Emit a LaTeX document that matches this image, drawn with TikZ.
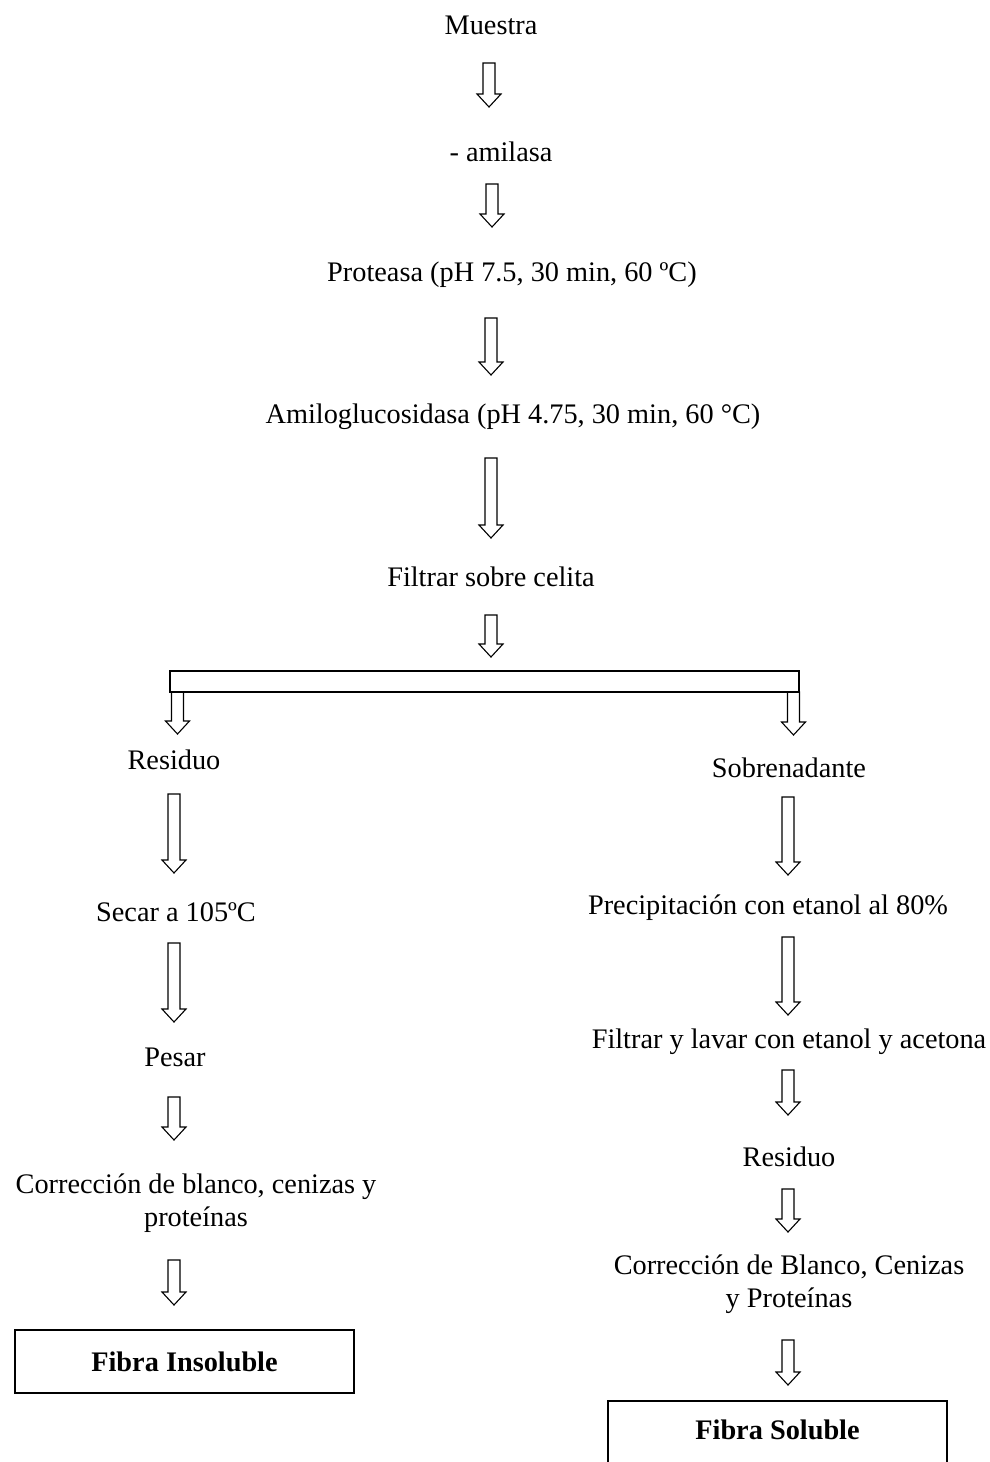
\documentclass[tikz,border=0pt]{standalone}
\usepackage{fontspec}
\setmainfont{Liberation Serif}
\usetikzlibrary{calc}
\tikzset{
  txt/.style={inner sep=0pt, font=\fontsize{28.3}{32.5}\selectfont, align=center},
  barrow/.style={draw, line width=1.1pt, line join=miter, to path={
    ($(\tikztostart)+(-6pt,0pt)$) -- ($(\tikztotarget)+(-6pt,13pt)$) -- ($(\tikztotarget)+(-12pt,13pt)$) -- (\tikztotarget) -- ($(\tikztotarget)+(12pt,13pt)$) -- ($(\tikztotarget)+(6pt,13pt)$) -- ($(\tikztostart)+(6pt,0pt)$) -- cycle}},
  resbox/.style={draw, line width=1.5pt, inner sep=0pt, font=\bfseries\fontsize{28.3}{32.5}\selectfont},
  barbox/.style={draw, line width=1.3pt, inner sep=0pt}
}
\begin{document}
\begin{tikzpicture}[x=1pt,y=-1pt]
\useasboundingbox (0,0) rectangle (989,1462);
\clip (0,0) rectangle (989,1462);
% main column
\node[txt] (mue) at (491,25) {Muestra};
\node[txt] (ami) at (501,152) {- amilasa};
\node[txt] (pro) at (512,275) {Proteasa (pH 7.5, 30 min, 60 ºC)};
\node[txt] (amg) at (513,417) {Amiloglucosidasa (pH 4.75, 30 min, 60 °C)};
\node[txt] (fil) at (491,577) {Filtrar sobre celita};
\coordinate (a1s) at (489,63);  \coordinate (a1t) at (489,107);
\coordinate (a2s) at (492,184); \coordinate (a2t) at (492,227);
\coordinate (a3s) at (491,318); \coordinate (a3t) at (491,375);
\coordinate (a4s) at (491,458); \coordinate (a4t) at (491,538);
\coordinate (a5s) at (491,615); \coordinate (a5t) at (491,657);
\draw[barrow] (a1s) to (a1t);
\draw[barrow] (a2s) to (a2t);
\draw[barrow] (a3s) to (a3t);
\draw[barrow] (a4s) to (a4t);
\draw[barrow] (a5s) to (a5t);
% bar
\node[barbox, minimum width=629pt, minimum height=21pt] (bar) at (484.5,681.5) {};
\coordinate (bls) at (177.5,692); \coordinate (blt) at (177.5,734);
\coordinate (brs) at (793.5,692); \coordinate (brt) at (793.5,735);
\draw[barrow] (bls) to (blt);
\draw[barrow] (brs) to (brt);
% left column
\node[txt] (res1) at (174,760) {Residuo};
\node[txt] (sec) at (176,912) {Secar a 105ºC};
\node[txt] (pes) at (175,1057) {Pesar};
\node[txt] (cor1) at (196,1203) {Corrección de blanco, cenizas y\\proteínas};
\node[resbox, minimum width=339pt, minimum height=63pt] (fi) at (184.5,1361.5) {Fibra Insoluble};
\coordinate (l1s) at (174,794);  \coordinate (l1t) at (174,873);
\coordinate (l2s) at (174,943);  \coordinate (l2t) at (174,1022);
\coordinate (l3s) at (174,1097); \coordinate (l3t) at (174,1140);
\coordinate (l4s) at (174,1260); \coordinate (l4t) at (174,1305);
\draw[barrow] (l1s) to (l1t);
\draw[barrow] (l2s) to (l2t);
\draw[barrow] (l3s) to (l3t);
\draw[barrow] (l4s) to (l4t);
% right column
\node[txt] (sob) at (789,768) {Sobrenadante};
\node[txt] (pre) at (768,908) {Precipitación con etanol al 80\%};
\node[txt] (fla) at (789,1042) {Filtrar y lavar con etanol y acetona};
\node[txt] (res2) at (789,1157) {Residuo};
\node[txt] (cor2) at (789,1284) {Corrección de Blanco, Cenizas\\y Proteínas};
\node[resbox, minimum width=339pt, minimum height=120pt] (fs) at (777.5,1461) {};
\node[txt, font=\bfseries\fontsize{28.3}{32.5}\selectfont] (fst) at (777.5,1430) {Fibra Soluble};
\coordinate (r1s) at (788,797);  \coordinate (r1t) at (788,875);
\coordinate (r2s) at (788,937);  \coordinate (r2t) at (788,1015);
\coordinate (r3s) at (788,1070); \coordinate (r3t) at (788,1115);
\coordinate (r4s) at (788,1189); \coordinate (r4t) at (788,1232);
\coordinate (r5s) at (788,1340); \coordinate (r5t) at (788,1385);
\draw[barrow] (r1s) to (r1t);
\draw[barrow] (r2s) to (r2t);
\draw[barrow] (r3s) to (r3t);
\draw[barrow] (r4s) to (r4t);
\draw[barrow] (r5s) to (r5t);
\end{tikzpicture}
\end{document}
